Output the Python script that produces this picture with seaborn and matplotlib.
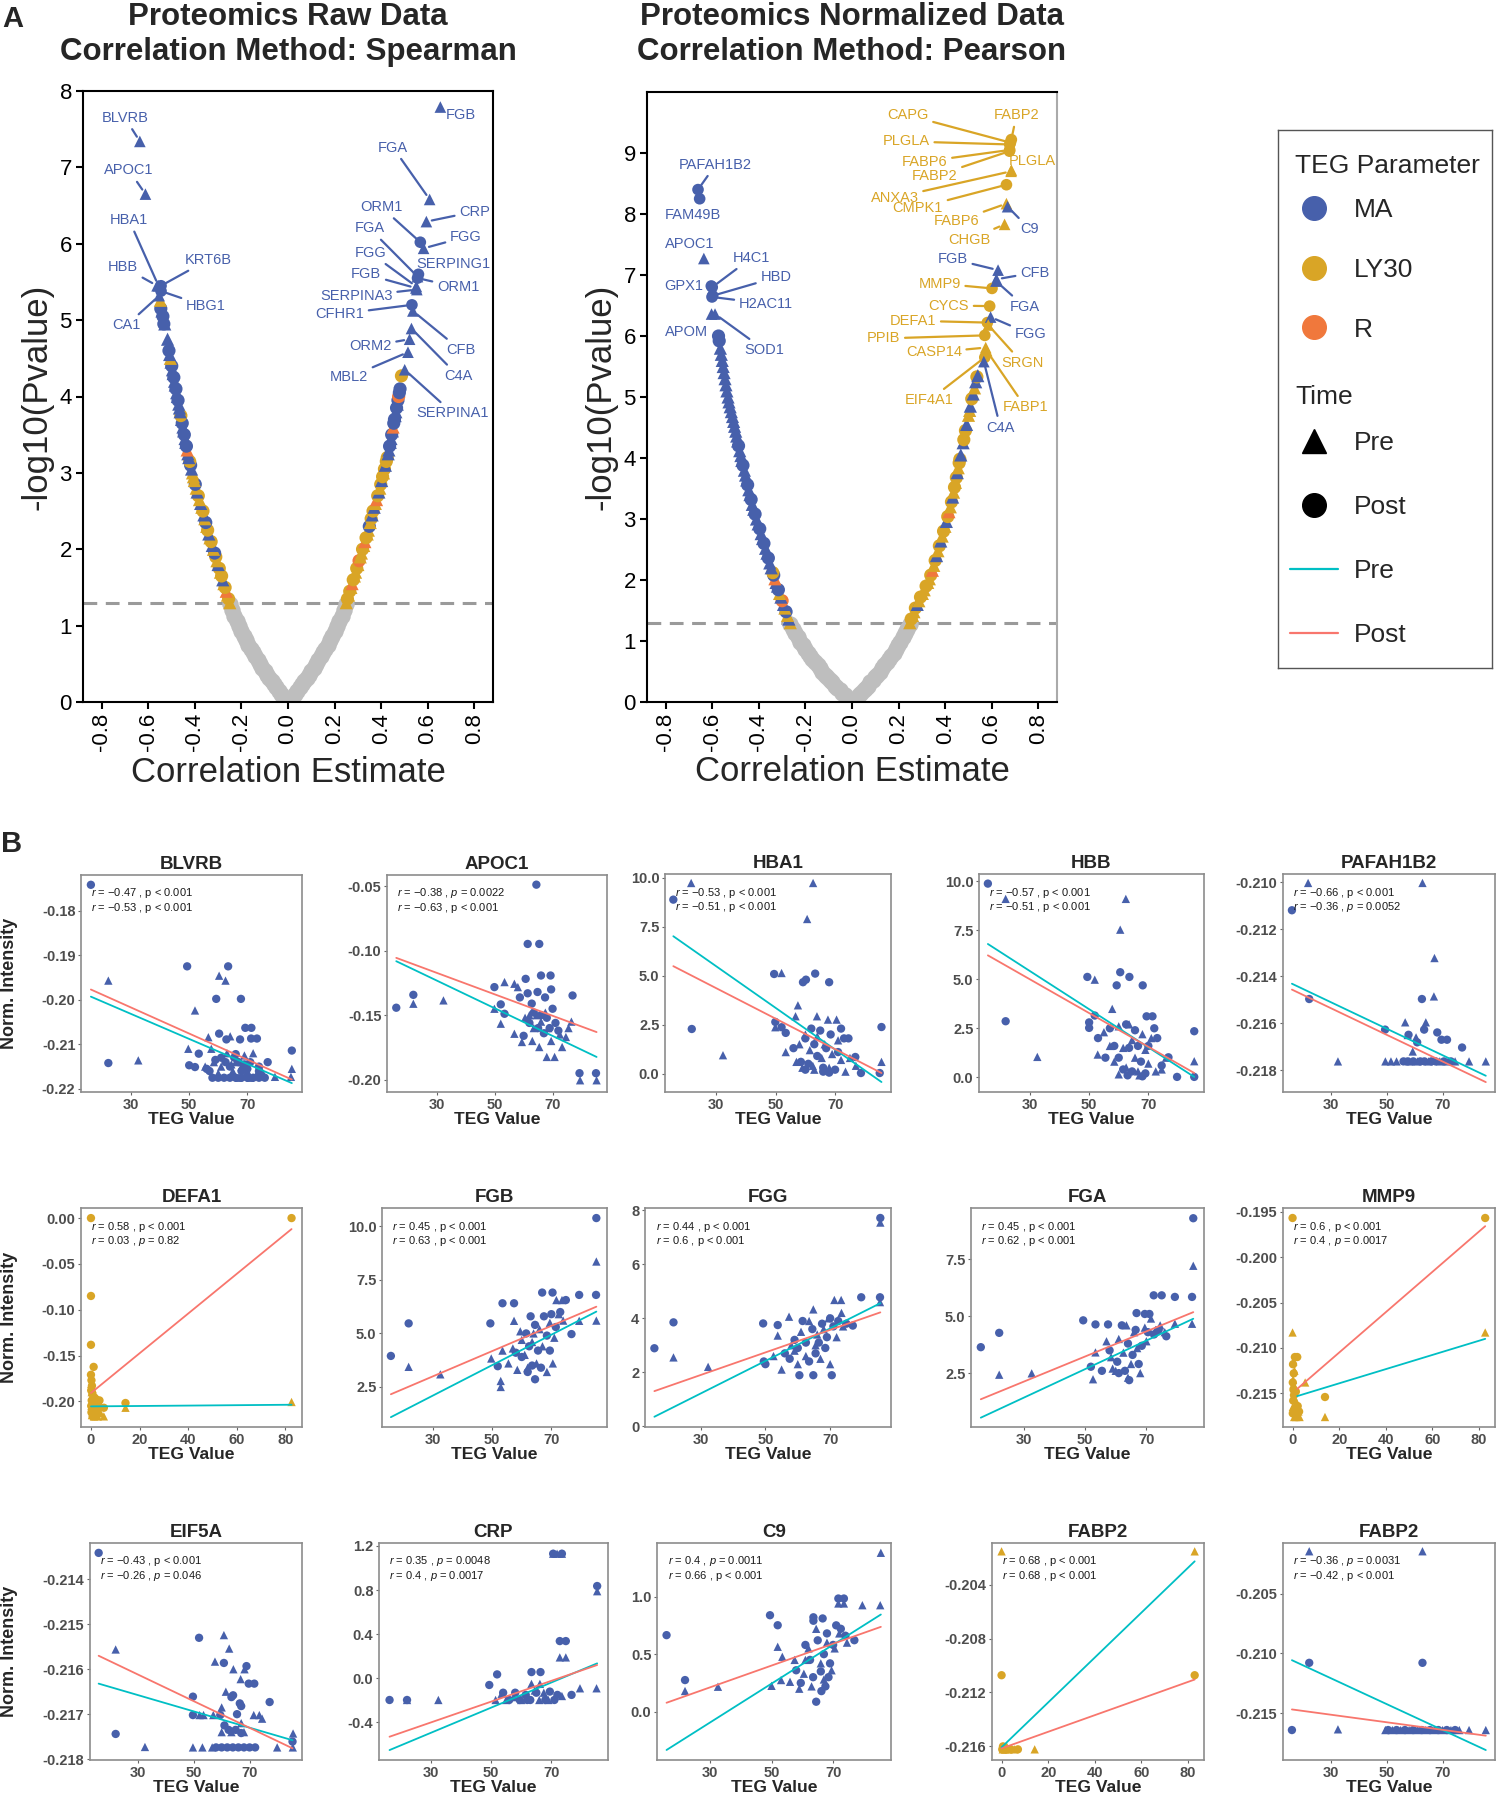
import matplotlib
matplotlib.use("Agg")
import matplotlib.pyplot as plt
import numpy as np
import pandas as pd
import seaborn as sns
from matplotlib.lines import Line2D
from matplotlib.ticker import FormatStrFormatter

sns.set_theme(style="white")
plt.rcParams['font.family'] = ['Liberation Sans', 'DejaVu Sans']
plt.rcParams['axes.unicode_minus'] = False
plt.rcParams['mathtext.fontset'] = 'custom'
plt.rcParams['mathtext.it'] = 'Liberation Sans:italic'
plt.rcParams['mathtext.rm'] = 'Liberation Sans'
plt.rcParams['mathtext.bf'] = 'Liberation Sans:bold'

# ---------------------------------------------------------------- colours
PARAM_COLORS = {"MA": "#4760AB", "LY30": "#D9A526", "R": "#F0783C"}
GRAY = "#BEBEBE"
CYAN = "#00BFC4"
RED = "#F8766D"
PARAM_CODE = {"B": "MA", "G": "LY30", "O": "R"}
TIME_CODE = {"T": "Pre", "C": "Post"}

# ---------------------------------------------------------------- volcano data (A)
# non-significant (grey) points: correlation estimate and -log10(p)
raw_ns_r = [0.00, 0.01, 0.02, 0.03, 0.04, 0.05, 0.06, 0.07, 0.08, 0.09, 0.10, 0.11, 0.12,
            0.13, 0.14, 0.15, 0.16, 0.17, 0.18, 0.19, 0.20, 0.21, 0.22, 0.23, 0.24, 0.25]
raw_ns_y = [0.00, 0.035, 0.07, 0.11, 0.15, 0.19, 0.23, 0.27, 0.32, 0.36, 0.41, 0.45, 0.50,
            0.55, 0.60, 0.65, 0.70, 0.75, 0.81, 0.87, 0.93, 0.99, 1.06, 1.13, 1.20, 1.28]
norm_ns_r_neg = [0.000, -0.011, -0.021, -0.032, -0.042, -0.053, -0.064, -0.074, -0.085, -0.095,
                 -0.106, -0.117, -0.127, -0.138, -0.148, -0.159, -0.170, -0.180, -0.191, -0.201,
                 -0.212, -0.223, -0.233, -0.244, -0.254, -0.265]
norm_ns_r_pos = [0.000, 0.010, 0.020, 0.030, 0.040, 0.050, 0.060, 0.070, 0.079, 0.089, 0.099,
                 0.109, 0.119, 0.129, 0.139, 0.149, 0.159, 0.169, 0.179, 0.189, 0.198, 0.208,
                 0.218, 0.228, 0.238, 0.248]
norm_ns_y = raw_ns_y

# significant points: (estimate, -log10 p, parameter+time code)
raw_sig = [
    (-0.250, 1.30, "GT"), (-0.255, 1.35, "GC"), (-0.260, 1.40, "GT"), (-0.265, 1.45, "OT"),
    (-0.270, 1.50, "GC"), (-0.275, 1.55, "GT"), (-0.280, 1.60, "BT"), (-0.285, 1.65, "GC"),
    (-0.290, 1.70, "GT"), (-0.295, 1.75, "GC"), (-0.300, 1.80, "BT"), (-0.305, 1.85, "GT"),
    (-0.310, 1.90, "GC"), (-0.315, 1.95, "BC"), (-0.320, 2.00, "GT"), (-0.325, 2.05, "BT"),
    (-0.330, 2.10, "GC"), (-0.335, 2.15, "GT"), (-0.340, 2.20, "BT"), (-0.345, 2.25, "GC"),
    (-0.349, 2.30, "GT"), (-0.353, 2.35, "BC"), (-0.357, 2.40, "GT"), (-0.361, 2.45, "BT"),
    (-0.365, 2.50, "GC"), (-0.370, 2.55, "GT"), (-0.375, 2.60, "BT"), (-0.380, 2.65, "GT"),
    (-0.385, 2.70, "GC"), (-0.390, 2.75, "BT"), (-0.394, 2.80, "GT"), (-0.398, 2.85, "BC"),
    (-0.402, 2.90, "GT"), (-0.406, 2.95, "GT"), (-0.410, 3.00, "GT"), (-0.414, 3.05, "BT"),
    (-0.418, 3.10, "BC"), (-0.422, 3.15, "GC"), (-0.426, 3.20, "BT"), (-0.430, 3.25, "BT"),
    (-0.433, 3.30, "OT"), (-0.436, 3.35, "BC"), (-0.439, 3.40, "BT"), (-0.442, 3.45, "BT"),
    (-0.445, 3.50, "BC"), (-0.448, 3.55, "BT"), (-0.451, 3.60, "BT"), (-0.454, 3.65, "BC"),
    (-0.457, 3.70, "BT"), (-0.460, 3.75, "GC"), (-0.463, 3.80, "BT"), (-0.466, 3.85, "BT"),
    (-0.469, 3.90, "BT"), (-0.472, 3.95, "BC"), (-0.475, 4.00, "BT"), (-0.478, 4.05, "BT"),
    (-0.481, 4.10, "BC"), (-0.484, 4.15, "BT"), (-0.487, 4.20, "BT"), (-0.490, 4.25, "BC"),
    (-0.493, 4.30, "BT"), (-0.496, 4.35, "BT"), (-0.499, 4.40, "BC"), (-0.502, 4.45, "BT"),
    (-0.505, 4.50, "GT"), (-0.508, 4.55, "BT"), (-0.511, 4.60, "BC"), (-0.517, 4.75, "BT"),
    (-0.529, 4.95, "BT"), (-0.533, 4.95, "BC"), (-0.537, 5.05, "BC"), (-0.541, 5.12, "BT"),
    (-0.546, 5.15, "BC"), (-0.548, 5.26, "GT"),
    (0.250, 1.30, "GT"), (0.255, 1.35, "GC"), (0.260, 1.40, "GT"), (0.265, 1.45, "GC"),
    (0.270, 1.50, "GT"), (0.275, 1.55, "OT"), (0.280, 1.60, "GC"), (0.285, 1.65, "GT"),
    (0.290, 1.70, "GT"), (0.295, 1.75, "GC"), (0.300, 1.80, "GT"), (0.305, 1.85, "OC"),
    (0.310, 1.90, "GT"), (0.315, 1.95, "GT"), (0.320, 2.00, "GC"), (0.325, 2.05, "GT"),
    (0.330, 2.10, "OT"), (0.335, 2.15, "GC"), (0.340, 2.20, "GT"), (0.345, 2.25, "GT"),
    (0.349, 2.30, "BC"), (0.353, 2.35, "GT"), (0.357, 2.40, "GC"), (0.361, 2.45, "BT"),
    (0.365, 2.50, "GC"), (0.370, 2.55, "BT"), (0.375, 2.60, "GT"), (0.380, 2.65, "OT"),
    (0.385, 2.70, "GC"), (0.390, 2.75, "BT"), (0.394, 2.80, "GT"), (0.398, 2.85, "GC"),
    (0.402, 2.90, "BT"), (0.406, 2.95, "GC"), (0.410, 3.00, "GT"), (0.414, 3.05, "GC"),
    (0.418, 3.10, "BT"), (0.422, 3.15, "GC"), (0.426, 3.20, "GC"), (0.430, 3.25, "BT"),
    (0.433, 3.30, "BT"), (0.436, 3.35, "BC"), (0.439, 3.40, "BT"), (0.442, 3.45, "BT"),
    (0.445, 3.50, "BC"), (0.448, 3.55, "BT"), (0.451, 3.60, "OT"), (0.454, 3.65, "BC"),
    (0.457, 3.70, "BC"), (0.460, 3.75, "BT"), (0.463, 3.80, "BT"), (0.466, 3.85, "BC"),
    (0.469, 3.90, "BT"), (0.472, 3.95, "BC"), (0.475, 4.00, "OC"), (0.478, 4.05, "BC"),
    (0.481, 4.10, "BC"), (0.487, 4.27, "GC"),
]

norm_sig = [
    (-0.265, 1.30, "GT"), (-0.271, 1.36, "BT"), (-0.277, 1.42, "GT"), (-0.283, 1.48, "BC"),
    (-0.288, 1.54, "GT"), (-0.294, 1.60, "BT"), (-0.300, 1.66, "OC"), (-0.305, 1.72, "BT"),
    (-0.311, 1.78, "GT"), (-0.316, 1.84, "BC"), (-0.320, 1.90, "BT"), (-0.326, 1.96, "BT"),
    (-0.331, 2.02, "OT"), (-0.336, 2.08, "BC"), (-0.340, 2.12, "GC"), (-0.347, 2.20, "BT"),
    (-0.353, 2.28, "BT"), (-0.359, 2.36, "BC"), (-0.365, 2.44, "BT"), (-0.371, 2.52, "BT"),
    (-0.378, 2.60, "BC"), (-0.384, 2.68, "BT"), (-0.390, 2.76, "BT"), (-0.396, 2.84, "BC"),
    (-0.403, 2.92, "BT"), (-0.410, 3.00, "BT"), (-0.416, 3.08, "BC"), (-0.422, 3.16, "BT"),
    (-0.428, 3.24, "BT"), (-0.433, 3.32, "BC"), (-0.438, 3.40, "BT"), (-0.443, 3.48, "BT"),
    (-0.448, 3.56, "BC"), (-0.452, 3.64, "BT"), (-0.457, 3.72, "BT"), (-0.462, 3.80, "BT"),
    (-0.468, 3.88, "BC"), (-0.473, 3.96, "BT"), (-0.477, 4.04, "BT"), (-0.482, 4.12, "BT"),
    (-0.487, 4.20, "BC"), (-0.491, 4.28, "BT"), (-0.495, 4.36, "BT"), (-0.499, 4.44, "BT"),
    (-0.504, 4.52, "BT"), (-0.508, 4.60, "BT"), (-0.513, 4.68, "BT"), (-0.518, 4.76, "BT"),
    (-0.523, 4.84, "BT"), (-0.528, 4.92, "BT"), (-0.532, 5.00, "BT"), (-0.537, 5.10, "BT"),
    (-0.541, 5.20, "BT"), (-0.545, 5.30, "BT"), (-0.549, 5.40, "BT"), (-0.553, 5.50, "BT"),
    (-0.557, 5.60, "BT"), (-0.561, 5.70, "BT"), (-0.565, 5.80, "BT"), (-0.570, 5.92, "BC"),
    (-0.573, 6.00, "BC"),
    (0.248, 1.30, "GT"), (0.254, 1.36, "GC"), (0.260, 1.42, "GT"), (0.266, 1.48, "GT"),
    (0.272, 1.54, "GC"), (0.280, 1.60, "BT"), (0.287, 1.66, "GT"), (0.294, 1.72, "GC"),
    (0.302, 1.78, "GT"), (0.310, 1.84, "GT"), (0.318, 1.90, "GC"), (0.325, 1.96, "GT"),
    (0.332, 2.02, "GT"), (0.338, 2.08, "GC"), (0.345, 2.16, "OT"), (0.351, 2.24, "GT"),
    (0.357, 2.32, "GC"), (0.363, 2.40, "BT"), (0.369, 2.48, "GT"), (0.375, 2.56, "GC"),
    (0.381, 2.64, "BT"), (0.387, 2.72, "GT"), (0.393, 2.80, "GC"), (0.399, 2.88, "GT"),
    (0.405, 2.96, "BT"), (0.411, 3.04, "GC"), (0.416, 3.12, "OT"), (0.422, 3.20, "GT"),
    (0.427, 3.28, "GC"), (0.432, 3.36, "BT"), (0.436, 3.44, "GT"), (0.440, 3.52, "GC"),
    (0.444, 3.60, "GT"), (0.448, 3.68, "GC"), (0.452, 3.76, "BT"), (0.456, 3.84, "GT"),
    (0.460, 3.92, "GC"), (0.463, 3.98, "GC"), (0.467, 4.05, "BT"), (0.477, 4.25, "BT"),
    (0.480, 4.30, "GC"), (0.487, 4.45, "GC"), (0.492, 4.55, "BT"), (0.500, 4.70, "GT"),
    (0.505, 4.78, "GT"), (0.508, 4.85, "BT"), (0.514, 4.97, "GC"), (0.520, 5.05, "BT"),
    (0.526, 5.15, "GT"), (0.531, 5.25, "BT"), (0.536, 5.33, "GC"), (0.540, 5.35, "BT"),
]

# labelled proteins
raw_label_names = ["BLVRB", "APOC1", "HBA1", "HBB", "KRT6B", "HBG1", "CA1", "FGB", "FGA",
                   "ORM1", "CRP", "FGA", "FGG", "FGG", "SERPING1", "FGB", "ORM1", "SERPINA3",
                   "CFHR1", "CFB", "ORM2", "C4A", "MBL2", "SERPINA1"]
raw_label_points = [(-0.636, 7.34, "BT"), (-0.612, 6.65, "BT"), (-0.556, 5.45, "BT"),
                    (-0.562, 5.45, "BT"), (-0.545, 5.45, "BC"), (-0.545, 5.38, "BC"),
                    (-0.553, 5.32, "BT"), (0.654, 7.79, "BT"), (0.608, 6.58, "BT"),
                    (0.568, 6.02, "BC"), (0.594, 6.29, "BT"), (0.556, 5.57, "BT"),
                    (0.582, 5.94, "BT"), (0.551, 5.44, "BT"), (0.560, 5.60, "BC"),
                    (0.549, 5.42, "BT"), (0.556, 5.55, "BC"), (0.553, 5.40, "BT"),
                    (0.532, 5.20, "BC"), (0.536, 5.12, "BT"), (0.522, 4.75, "BT"),
                    (0.530, 4.89, "BT"), (0.515, 4.58, "BT"), (0.501, 4.35, "BT")]
norm_label_names = ["PAFAH1B2", "FAM49B", "APOC1", "H4C1", "GPX1", "HBD", "H2AC11", "APOM",
                    "SOD1", "CAPG", "FABP2", "PLGLA", "FABP6", "FABP2", "PLGLA", "ANXA3",
                    "CMPK1", "FABP6", "C9", "CHGB", "FGB", "CFB", "MMP9", "FGA", "CYCS",
                    "DEFA1", "FGG", "PPIB", "CASP14", "SRGN", "EIF4A1", "FABP1", "C4A"]
norm_label_points = [(-0.661, 8.40, "BC"), (-0.654, 8.25, "BC"), (-0.636, 7.27, "BT"),
                     (-0.600, 6.80, "BC"), (-0.604, 6.82, "BC"), (-0.598, 6.66, "BC"),
                     (-0.601, 6.64, "BC"), (-0.603, 6.36, "BT"), (-0.588, 6.36, "BT"),
                     (0.680, 9.17, "GC"), (0.684, 9.22, "GC"), (0.677, 9.14, "GC"),
                     (0.677, 9.05, "GC"), (0.676, 9.03, "GC"), (0.684, 8.72, "GT"),
                     (0.683, 8.70, "GT"), (0.663, 8.48, "GC"), (0.663, 8.17, "GT"),
                     (0.668, 8.12, "BT"), (0.655, 7.83, "GT"), (0.627, 7.08, "BT"),
                     (0.620, 6.93, "BT"), (0.601, 6.78, "GC"), (0.618, 6.90, "BT"),
                     (0.591, 6.49, "GC"), (0.581, 6.22, "GC"), (0.595, 6.31, "BT"),
                     (0.570, 6.01, "GC"), (0.574, 5.81, "GT"), (0.585, 6.18, "GT"),
                     (0.570, 5.65, "GC"), (0.578, 5.76, "GT"), (0.566, 5.58, "BT")]
sig_threshold = 1.3

# label placement (layout)
raw_label_pos = [(-0.700, 7.65), (-0.682, 6.96), (-0.682, 6.31), (-0.708, 5.70), (-0.343, 5.79),
                 (-0.353, 5.18), (-0.694, 4.93), (0.740, 7.69), (0.451, 7.26), (0.401, 6.48),
                 (0.801, 6.42), (0.351, 6.20), (0.763, 6.09), (0.354, 5.88), (0.708, 5.74),
                 (0.336, 5.60), (0.730, 5.43), (0.294, 5.31), (0.222, 5.08), (0.740, 4.61),
                 (0.354, 4.66), (0.730, 4.27), (0.262, 4.25), (0.708, 3.78)]
raw_label_seg = [1, 1, 1, 1, 1, 1, 1, 0, 1, 1, 1, 1, 1, 1, 0, 1, 1, 1, 1, 1, 1, 1, 1, 1]
norm_label_pos = [(-0.585, 8.81), (-0.682, 7.98), (-0.697, 7.51), (-0.432, 7.28), (-0.722, 6.82),
                  (-0.327, 6.96), (-0.370, 6.53), (-0.711, 6.06), (-0.375, 5.77), (0.240, 9.62),
                  (0.706, 9.62), (0.233, 9.19), (0.312, 8.86), (0.355, 8.62), (0.774, 8.87),
                  (0.183, 8.27), (0.283, 8.10), (0.448, 7.88), (0.763, 7.75), (0.502, 7.58),
                  (0.433, 7.26), (0.784, 7.04), (0.376, 6.86), (0.741, 6.48), (0.416, 6.50),
                  (0.262, 6.25), (0.766, 6.03), (0.136, 5.96), (0.351, 5.73), (0.731, 5.56),
                  (0.333, 4.95), (0.745, 4.83), (0.637, 4.50)]
norm_label_seg = [1, 0, 0, 1, 0, 1, 1, 0, 1, 1, 1, 1, 1, 1, 0, 1, 1, 1, 1, 1, 1, 1, 1, 1, 1,
                  1, 1, 1, 1, 1, 1, 1, 1]

# ---------------------------------------------------------------- scatter data (B)
BLVRB_pre = [(22.2, -0.1957), (32.5, -0.2136), (52.0, -0.2024), (49.7, -0.2110), (60.3, -0.1946),
             (62.5, -0.1957), (56.6, -0.2084), (64.1, -0.2082), (57.6, -0.2110), (58.5, -0.2140),
             (61.0, -0.2150), (63.0, -0.2120), (65.0, -0.2160), (66.0, -0.2140), (68.0, -0.2150),
             (69.0, -0.2125), (70.0, -0.2160), (72.0, -0.2120), (73.0, -0.2170), (75.0, -0.2160),
             (79.5, -0.2173), (85.0, -0.2173), (85.3, -0.2155), (67.0, -0.2175), (71.0, -0.2175),
             (60.0, -0.2165), (55.5, -0.2150), (64.5, -0.2145), (69.5, -0.2170)]
BLVRB_post = [(16.2, -0.1742), (22.2, -0.2142), (49.3, -0.1925), (50.0, -0.2147), (53.3, -0.2121),
              (52.0, -0.2151), (59.3, -0.1998), (63.4, -0.1925), (67.8, -0.1998), (60.3, -0.2076),
              (62.8, -0.2089), (69.3, -0.2063), (71.4, -0.2063), (67.5, -0.2089), (71.3, -0.2087),
              (73.3, -0.2087), (56.0, -0.2155), (57.0, -0.2160), (59.0, -0.2135), (61.0, -0.2130),
              (62.5, -0.2140), (64.0, -0.2150), (65.5, -0.2130), (66.0, -0.2122), (67.0, -0.2140),
              (68.0, -0.2160), (69.0, -0.2145), (70.0, -0.2155), (71.0, -0.2140), (74.0, -0.2150),
              (74.0, -0.2160), (77.0, -0.2140), (85.3, -0.2114), (60.0, -0.2175), (62.0, -0.2175),
              (64.0, -0.2175), (66.0, -0.2175), (68.0, -0.2175), (70.0, -0.2175), (72.0, -0.2175),
              (74.0, -0.2175), (76.0, -0.2175), (58.0, -0.2175)]
BLVRB_fit = {"Pre": [(16.2, -0.1993), (85.3, -0.2187)], "Post": [(16.2, -0.1977), (85.3, -0.2179)]}
BLVRB_stats = [("−0.47", "< 0.001"), ("−0.53", "< 0.001")]

APOC1_pre = [(21.9, -0.1411), (32.3, -0.1385), (53.4, -0.1243), (56.8, -0.1256), (58.0, -0.1282),
             (49.9, -0.1450), (52.1, -0.1566), (56.8, -0.1644), (59.4, -0.1708), (65.4, -0.1747),
             (68.0, -0.1824), (70.7, -0.1824), (73.3, -0.1747), (74.6, -0.1669), (60.5, -0.152),
             (62.0, -0.150), (63.5, -0.160), (64.5, -0.150), (66.0, -0.155), (67.5, -0.148),
             (68.5, -0.160), (69.5, -0.170), (72.5, -0.165), (75.5, -0.160), (76.5, -0.155),
             (63.0, -0.170), (79.5, -0.2005), (85.2, -0.2005)]
APOC1_post = [(16.0, -0.1442), (21.9, -0.1342), (64.4, -0.0487), (61.4, -0.0947), (65.4, -0.0947),
              (66.0, -0.1192), (69.3, -0.1192), (49.9, -0.1282), (60.7, -0.1218), (52.1, -0.1416),
              (53.4, -0.1489), (58.7, -0.1362), (61.4, -0.1330), (62.8, -0.1410), (64.8, -0.1320),
              (67.4, -0.1362), (69.5, -0.1300), (70.0, -0.1450), (63.5, -0.1480), (66.0, -0.1500),
              (68.0, -0.1520), (71.0, -0.1560), (65.0, -0.1600), (67.0, -0.1640), (60.0, -0.1660),
              (72.0, -0.1620), (76.9, -0.1347), (79.3, -0.1950), (85.0, -0.1950), (62.0, -0.1560),
              (69.0, -0.1600)]
APOC1_fit = {"Pre": [(16.0, -0.1081), (85.2, -0.1824)], "Post": [(16.0, -0.1055), (85.2, -0.1631)]}
APOC1_stats = [("−0.38", "= 0.0022"), ("−0.63", "< 0.001")]

HBA1_pre = [(21.6, 9.74), (62.6, 9.74), (60.6, 7.90), (32.3, 0.94), (52.0, 5.14), (57.5, 3.49),
            (49.9, 2.37), (53.4, 1.10), (56.7, 2.93), (63.9, 2.93), (67.6, 2.76), (70.5, 2.76),
            (85.6, 0.60), (58.0, 1.5), (60.0, 2.0), (61.5, 1.2), (62.5, 0.4), (64.0, 1.9),
            (65.5, 0.8), (66.5, 1.5), (68.0, 0.3), (69.0, 1.0), (71.0, 1.7), (72.0, 0.7),
            (73.5, 0.1), (75.0, 0.8), (77.0, 0.4), (57.0, 0.6), (59.0, 0.3), (63.0, 0.2)]
HBA1_post = [(15.6, 8.89), (21.8, 2.28), (49.5, 5.09), (59.2, 4.67), (60.2, 4.80), (63.3, 5.11),
             (68.0, 4.67), (49.9, 2.64), (52.0, 2.37), (53.4, 2.08), (85.6, 2.38), (85.0, 0.03),
             (78.7, 0.03), (76.8, 0.85), (56.0, 1.3), (58.5, 0.6), (60.0, 1.8), (61.0, 0.5),
             (62.0, 2.3), (63.0, 1.5), (64.0, 0.9), (65.0, 2.2), (66.0, 0.3), (67.0, 1.3),
             (68.5, 2.0), (70.0, 0.2), (71.0, 1.1), (72.0, 2.3), (73.0, 1.8), (74.5, 1.8),
             (66.0, 0.1), (68.0, 0.05), (60.0, 0.2)]
HBA1_fit = {"Pre": [(15.6, 7.02), (85.6, -0.43)], "Post": [(15.6, 5.49), (85.6, 0.03)]}
HBA1_stats = [("−0.53", "< 0.001"), ("−0.51", "< 0.001")]

HBB_pre = [(21.8, 9.10), (32.5, 1.04), (62.4, 9.10), (60.5, 7.53), (51.9, 4.98), (57.8, 3.49),
           (52.9, 1.16), (85.5, 0.82), (55.0, 2.3), (57.0, 1.6), (58.5, 0.8), (60.0, 2.6),
           (61.5, 1.5), (62.5, 0.5), (63.5, 2.7), (64.5, 1.9), (65.5, 1.0), (66.5, 0.3),
           (68.0, 2.2), (69.0, 1.4), (70.0, 0.7), (71.0, 2.0), (72.5, 0.3), (74.5, 0.4),
           (76.0, 1.0), (60.0, 0.15), (67.0, 0.1)]
HBB_post = [(15.8, 9.88), (21.8, 2.86), (49.4, 5.12), (60.5, 5.36), (63.6, 5.12), (59.3, 4.69),
            (68.1, 4.69), (51.9, 3.15), (50.0, 2.80), (50.0, 2.52), (69.4, 3.11), (71.4, 3.11),
            (85.5, 2.35), (79.7, 0.02), (85.5, 0.02), (76.8, 1.02), (53.0, 2.0), (55.5, 1.0),
            (57.0, 2.5), (58.5, 1.6), (60.0, 1.0), (61.5, 0.4), (62.5, 2.7), (63.5, 1.5),
            (64.5, 0.3), (65.5, 2.4), (66.5, 1.6), (67.5, 0.8), (69.0, 0.2), (70.0, 1.6),
            (72.0, 2.5), (73.0, 2.0), (74.5, 0.6), (63.0, 0.1), (68.0, 0.05)]
HBB_fit = {"Pre": [(15.8, 6.80), (85.5, 0.02)], "Post": [(15.8, 6.22), (85.5, 0.22)]}
HBB_stats = [("−0.57", "< 0.001"), ("−0.51", "< 0.001")]

PAFAH1B2_pre = [(21.8, -0.21004), (62.8, -0.21004), (32.5, -0.21762), (67.1, -0.21323),
                (66.9, -0.21486), (56.6, -0.21596), (64.0, -0.21596), (59.3, -0.2172),
                (49.5, -0.21762), (51.5, -0.21762), (53.5, -0.21762), (58.0, -0.21762),
                (61.0, -0.21762), (65.0, -0.21762), (69.0, -0.21762), (72.0, -0.21762),
                (74.5, -0.21762), (79.5, -0.21762), (85.5, -0.21762), (60.5, -0.21660),
                (57.5, -0.21650)]
PAFAH1B2_post = [(16.0, -0.2112), (22.2, -0.21497), (62.6, -0.21497), (49.4, -0.21627),
                 (63.4, -0.21627), (57.8, -0.21649), (68.1, -0.21639), (69.6, -0.2167),
                 (71.6, -0.2167), (60.9, -0.21681), (77.0, -0.21703), (56.0, -0.21762),
                 (57.5, -0.21762), (59.5, -0.21762), (62.0, -0.21762), (63.5, -0.21762),
                 (66.0, -0.21762), (67.5, -0.21762), (70.5, -0.21762), (73.0, -0.21762)]
PAFAH1B2_fit = {"Pre": [(16.0, -0.21432), (85.5, -0.21823)],
                "Post": [(16.0, -0.21457), (85.5, -0.21850)]}
PAFAH1B2_stats = [("−0.66", "< 0.001"), ("−0.36", "= 0.0052")]

DEFA1_pre = [(82.5, -0.2007), (0.3, -0.190), (0.5, -0.195), (1.0, -0.200), (0.2, -0.205),
             (1.5, -0.208), (0.8, -0.212), (2.0, -0.203), (2.5, -0.210), (3.0, -0.206),
             (0.4, -0.215), (1.2, -0.2165), (5.3, -0.2164), (4.0, -0.2130), (14.2, -0.2070),
             (2.8, -0.2165), (0.1, -0.181), (0.6, -0.186)]
DEFA1_post = [(0.0, 0.0), (82.5, 0.0), (0.0, -0.085), (0.0, -0.1383), (1.1, -0.1624),
              (0.0, -0.171), (0.2, -0.177), (0.4, -0.183), (0.1, -0.188), (0.6, -0.192),
              (1.5, -0.196), (0.3, -0.199), (2.2, -0.198), (0.9, -0.202), (0.1, -0.205),
              (1.8, -0.206), (0.5, -0.209), (2.8, -0.203), (0.2, -0.212), (1.3, -0.214),
              (0.7, -0.2165), (14.2, -0.2018), (5.3, -0.207), (3.5, -0.199), (2.0, -0.211)]
DEFA1_fit = {"Pre": [(0.0, -0.2055), (82.5, -0.2037)], "Post": [(0.0, -0.1909), (82.5, -0.0120)]}
DEFA1_stats = [("0.58", "< 0.001"), ("0.03", "= 0.82")]

FGB_pre = [(21.8, 3.44), (32.5, 3.09), (49.7, 3.83), (57.4, 5.59), (52.9, 2.78), (52.9, 2.50),
           (71.7, 6.56), (73.6, 6.56), (79.4, 5.59), (85.2, 8.36), (85.2, 5.60), (53.5, 4.2),
           (55.5, 3.6), (57.0, 4.3), (58.5, 3.3), (59.5, 5.1), (61.0, 4.0), (62.0, 3.4),
           (63.5, 4.6), (65.0, 3.6), (66.0, 5.2), (67.0, 4.4), (68.5, 3.2), (69.5, 5.5),
           (70.5, 3.6), (71.0, 4.8), (72.5, 5.9), (74.0, 5.6), (60.0, 4.7), (64.0, 5.0)]
FGB_post = [(15.8, 3.95), (21.8, 5.47), (49.4, 5.47), (53.5, 6.41), (57.4, 6.41), (51.9, 3.47),
            (64.5, 2.86), (66.9, 6.91), (70.4, 6.91), (74.9, 6.56), (79.4, 6.80), (76.8, 4.97),
            (85.2, 10.39), (85.1, 6.80), (58.0, 4.1), (60.0, 3.9), (61.5, 5.0), (62.5, 4.4),
            (63.5, 3.5), (64.5, 5.4), (65.5, 4.2), (66.5, 3.4), (67.5, 5.8), (68.5, 4.9),
            (69.5, 4.2), (70.0, 5.9), (71.5, 5.3), (73.0, 6.0), (63.0, 5.8), (62.0, 3.2)]
FGB_fit = {"Pre": [(15.8, 1.09), (85.2, 6.02)], "Post": [(15.8, 2.16), (85.2, 6.25)]}
FGB_stats = [("0.45", "< 0.001"), ("0.63", "< 0.001")]

FGG_pre = [(21.6, 2.55), (32.3, 2.20), (53.8, 3.36), (57.3, 4.06), (64.8, 4.33), (71.3, 4.68),
           (73.4, 4.68), (85.4, 4.60), (85.5, 7.55), (52.5, 2.6), (55.0, 2.1), (60.0, 2.3),
           (58.0, 3.0), (61.0, 3.5), (62.5, 2.6), (63.5, 3.9), (65.5, 3.0), (67.0, 2.5),
           (68.0, 3.6), (69.5, 4.0), (70.0, 2.3), (72.0, 3.3), (73.5, 4.2), (74.0, 3.7),
           (66.0, 3.4), (59.0, 2.8)]
FGG_post = [(15.7, 2.89), (21.6, 3.85), (49.3, 3.81), (49.5, 2.4), (50.0, 2.3), (53.8, 3.75),
            (60.5, 1.89), (64.8, 1.89), (70.5, 1.89), (79.6, 4.78), (85.4, 4.78), (85.5, 7.72),
            (77.0, 3.73), (56.0, 2.7), (57.5, 2.5), (59.0, 3.2), (60.0, 2.9), (61.5, 3.9),
            (62.5, 3.1), (63.5, 2.4), (64.5, 3.6), (65.5, 2.7), (66.5, 3.1), (67.5, 3.8),
            (68.5, 2.9), (69.0, 3.3), (70.0, 4.0), (71.0, 3.7), (72.5, 3.9), (75.0, 3.8)]
FGG_fit = {"Pre": [(15.7, 0.35), (85.5, 4.56)], "Post": [(15.7, 1.30), (85.5, 4.22)]}
FGG_stats = [("0.44", "< 0.001"), ("0.6", "< 0.001")]

FGA_pre = [(22.0, 2.43), (32.6, 2.49), (53.4, 3.41), (52.6, 2.23), (79.3, 4.67), (84.9, 4.67),
           (85.3, 7.22), (57.0, 3.9), (58.5, 3.2), (60.0, 2.6), (61.0, 4.0), (62.5, 3.4),
           (63.5, 4.6), (65.0, 2.9), (66.0, 4.3), (67.0, 3.6), (68.0, 2.5), (69.5, 4.5),
           (70.0, 3.9), (71.5, 4.9), (73.0, 4.4), (74.5, 4.6), (76.0, 4.3), (64.0, 2.3),
           (59.0, 2.7)]
FGA_post = [(16.0, 3.64), (22.0, 4.27), (49.4, 4.82), (53.4, 4.64), (57.5, 4.64), (51.9, 2.78),
            (66.8, 5.14), (72.4, 5.92), (75.0, 5.92), (79.3, 5.85), (84.9, 5.85), (76.5, 4.12),
            (85.3, 9.31), (64.4, 2.19), (55.5, 2.6), (58.0, 3.5), (60.5, 3.0), (62.0, 4.6),
            (63.0, 2.6), (64.0, 3.8), (65.5, 3.3), (66.5, 4.4), (67.5, 2.9), (68.5, 3.7),
            (69.5, 5.1), (70.5, 4.3), (71.0, 5.1), (72.5, 4.2), (74.0, 4.4), (61.0, 2.5)]
FGA_fit = {"Pre": [(16.0, 0.54), (85.3, 4.89)], "Post": [(16.0, 1.35), (85.3, 5.18)]}
FGA_stats = [("0.45", "< 0.001"), ("0.62", "< 0.001")]

MMP9_pre = [(82.6, -0.2083), (0.0, -0.2083), (5.4, -0.2138), (13.9, -0.2176), (0.3, -0.2115),
            (0.8, -0.2125), (0.2, -0.2135), (1.2, -0.2145), (0.5, -0.2155), (1.8, -0.2160),
            (0.1, -0.2165), (2.5, -0.2170), (0.7, -0.2176), (1.5, -0.2176), (3.0, -0.2176),
            (0.4, -0.2140), (1.0, -0.2168)]
MMP9_post = [(0.0, -0.1957), (82.6, -0.1957), (2.0, -0.2110), (1.0, -0.2110), (13.9, -0.2154),
             (0.2, -0.2118), (0.5, -0.2128), (0.1, -0.2138), (1.4, -0.2148), (0.6, -0.2152),
             (0.3, -0.2158), (2.2, -0.2164), (0.9, -0.2168), (0.1, -0.2172), (1.7, -0.2174),
             (0.4, -0.2146), (2.8, -0.2170)]
MMP9_fit = {"Pre": [(2.0, -0.2153), (82.6, -0.2090)], "Post": [(2.0, -0.2145), (82.6, -0.1966)]}
MMP9_stats = [("0.6", "< 0.001"), ("0.4", "= 0.0017")]

EIF5A_pre = [(22.0, -0.21556), (32.5, -0.21773), (60.8, -0.21524), (62.7, -0.21554),
             (57.6, -0.21583), (64.2, -0.21600), (68.2, -0.21600), (66.8, -0.21622),
             (52.1, -0.21702), (53.5, -0.21702), (57.0, -0.21702), (60.0, -0.21685),
             (61.5, -0.21650), (63.5, -0.21740), (67.0, -0.21720), (71.5, -0.21702),
             (73.5, -0.21702), (74.5, -0.21710), (49.7, -0.21774), (53.1, -0.21774),
             (56.6, -0.21774), (79.9, -0.21774), (85.6, -0.21743), (85.5, -0.21774),
             (60.0, -0.21740), (68.0, -0.21740)]
EIF5A_post = [(15.9, -0.21341), (22.0, -0.21744), (51.9, -0.21530), (60.8, -0.21586),
              (68.9, -0.21593), (69.7, -0.21632), (71.7, -0.21632), (49.7, -0.21661),
              (49.7, -0.21702), (64.1, -0.21658), (63.5, -0.21662), (66.5, -0.21676),
              (67.0, -0.21682), (77.2, -0.21673), (59.5, -0.21702), (61.0, -0.21725),
              (62.5, -0.21735), (65.0, -0.21735), (67.0, -0.21742), (85.4, -0.21761),
              (58.0, -0.21774), (60.0, -0.21774), (62.0, -0.21774), (64.0, -0.21774),
              (66.0, -0.21774), (68.0, -0.21774), (70.0, -0.21774), (72.0, -0.21774),
              (65.5, -0.21700)]
EIF5A_fit = {"Pre": [(15.9, -0.21632), (85.4, -0.21758)], "Post": [(15.9, -0.21570), (85.4, -0.21776)]}
EIF5A_stats = [("−0.43", "< 0.001"), ("−0.26", "= 0.046")]

CRP_pre = [(22.1, -0.196), (32.5, -0.196), (51.5, -0.196), (53.5, -0.14), (55.0, -0.196),
           (57.5, -0.17), (60.0, -0.196), (62.0, -0.16), (63.4, -0.05), (66.2, -0.05),
           (64.5, -0.11), (67.5, -0.13), (69.0, -0.196), (70.6, 1.13), (71.9, 1.13),
           (73.5, 1.13), (72.8, 0.19), (74.8, 0.19), (79.5, -0.09), (85.0, -0.09),
           (85.2, 0.79), (73.5, -0.16), (66.0, -0.196)]
CRP_post = [(16.3, -0.196), (22.1, -0.196), (49.4, -0.06), (52.0, 0.036), (63.4, 0.057),
            (66.4, 0.057), (70.6, 1.13), (73.5, 1.13), (72.8, 0.338), (74.8, 0.338),
            (76.7, -0.15), (85.2, 0.837), (54.0, -0.13), (56.0, -0.196), (58.0, -0.13),
            (59.5, -0.196), (61.5, -0.15), (63.0, -0.196), (65.0, -0.13), (68.0, -0.196),
            (69.5, -0.12), (71.0, -0.196), (72.0, -0.15), (62.0, -0.196)]
CRP_fit = {"Pre": [(16.3, -0.650), (85.2, 0.136)], "Post": [(16.3, -0.529), (85.2, 0.121)]}
CRP_stats = [("0.35", "= 0.0048"), ("0.4", "= 0.0017")]

C9_pre = [(21.9, 0.18), (32.6, 0.217), (52.0, 0.564), (53.5, 0.477), (50.0, 0.225), (53.1, 0.275),
          (71.7, 0.94), (73.5, 0.94), (79.5, 0.925), (85.3, 0.925), (85.5, 1.38), (56.0, 0.26),
          (57.5, 0.45), (59.0, 0.20), (60.5, 0.33), (62.0, 0.55), (63.0, 0.22), (64.5, 0.72),
          (66.0, 0.42), (67.0, 0.28), (68.0, 0.60), (69.5, 0.36), (70.5, 0.55), (72.0, 0.68),
          (74.5, 0.60), (61.0, 0.45)]
C9_post = [(15.9, 0.665), (21.9, 0.275), (49.5, 0.838), (52.0, 0.751), (63.6, 0.82), (63.6, 0.79),
           (66.6, 0.81), (71.7, 0.983), (73.5, 0.983), (76.9, 0.621), (64.5, 0.087), (66.2, 0.179),
           (58.0, 0.36), (59.5, 0.25), (61.0, 0.58), (62.5, 0.45), (63.5, 0.30), (65.0, 0.62),
           (66.0, 0.35), (67.0, 0.50), (68.0, 0.68), (69.0, 0.42), (70.0, 0.58), (71.0, 0.75),
           (72.5, 0.72), (74.0, 0.66), (67.5, 0.22), (68.5, 0.30)]
C9_fit = {"Pre": [(15.9, -0.332), (85.5, 0.844)], "Post": [(15.9, 0.078), (85.5, 0.737)]}
C9_stats = [("0.4", "= 0.0011"), ("0.66", "< 0.001")]

FABP2a_pre = [(0.0, -0.20153), (82.8, -0.20153), (14.2, -0.21622), (0.5, -0.21622),
              (1.5, -0.21622), (3.0, -0.21622), (5.5, -0.21622), (2.2, -0.21600)]
FABP2a_post = [(0.0, -0.21072), (82.8, -0.21072), (0.3, -0.21622), (1.0, -0.21622),
               (2.0, -0.21622), (4.0, -0.21622), (7.0, -0.21622), (0.6, -0.21600)]
FABP2a_fit = {"Pre": [(0.0, -0.21607), (82.8, -0.20227)], "Post": [(0.0, -0.21615), (82.8, -0.21104)]}
FABP2a_stats = [("0.68", "< 0.001"), ("0.68", "< 0.001")]

FABP2b_pre = [(22.2, -0.20147), (62.8, -0.20147), (32.5, -0.21633), (49.5, -0.21639),
              (52.0, -0.21639), (55.0, -0.21639), (58.0, -0.21639), (61.0, -0.21639),
              (64.0, -0.21639), (67.0, -0.21639), (70.0, -0.21639), (73.0, -0.21639),
              (76.0, -0.21639), (79.5, -0.21639), (85.5, -0.21639)]
FABP2b_post = [(16.0, -0.21639), (22.2, -0.21078), (62.8, -0.21078), (50.5, -0.21639),
               (53.5, -0.21639), (56.5, -0.21639), (59.5, -0.21639), (62.5, -0.21639),
               (65.5, -0.21639), (68.5, -0.21639), (71.5, -0.21639), (74.5, -0.21639)]
FABP2b_fit = {"Pre": [(16.0, -0.21056), (85.5, -0.21806)], "Post": [(16.0, -0.21467), (85.5, -0.21686)]}
FABP2b_stats = [("−0.36", "= 0.0031"), ("−0.42", "< 0.001")]

panel_titles = ["BLVRB", "APOC1", "HBA1", "HBB", "PAFAH1B2",
                "DEFA1", "FGB", "FGG", "FGA", "MMP9",
                "EIF5A", "CRP", "C9", "FABP2", "FABP2"]
panel_param = ["MA", "MA", "MA", "MA", "MA", "LY30", "MA", "MA", "MA", "LY30",
               "MA", "MA", "MA", "LY30", "MA"]
panel_data = [
    (BLVRB_pre, BLVRB_post, BLVRB_fit, BLVRB_stats),
    (APOC1_pre, APOC1_post, APOC1_fit, APOC1_stats),
    (HBA1_pre, HBA1_post, HBA1_fit, HBA1_stats),
    (HBB_pre, HBB_post, HBB_fit, HBB_stats),
    (PAFAH1B2_pre, PAFAH1B2_post, PAFAH1B2_fit, PAFAH1B2_stats),
    (DEFA1_pre, DEFA1_post, DEFA1_fit, DEFA1_stats),
    (FGB_pre, FGB_post, FGB_fit, FGB_stats),
    (FGG_pre, FGG_post, FGG_fit, FGG_stats),
    (FGA_pre, FGA_post, FGA_fit, FGA_stats),
    (MMP9_pre, MMP9_post, MMP9_fit, MMP9_stats),
    (EIF5A_pre, EIF5A_post, EIF5A_fit, EIF5A_stats),
    (CRP_pre, CRP_post, CRP_fit, CRP_stats),
    (C9_pre, C9_post, C9_fit, C9_stats),
    (FABP2a_pre, FABP2a_post, FABP2a_fit, FABP2a_stats),
    (FABP2b_pre, FABP2b_post, FABP2b_fit, FABP2b_stats),
]

# ---------------------------------------------------------------- layout (pixels)
W, H = 1498, 1800
fig = plt.figure(figsize=(W / 100, H / 100), dpi=100)
fig.patch.set_facecolor("white")


def px_axes(l, t, r, b):
    return fig.add_axes([l / W, 1 - b / H, (r - l) / W, (b - t) / H])


# panel boxes (left, top, right, bottom) and axis scales
B_boxes = [(81, 875, 302, 1092), (387, 875, 607, 1092), (665, 874, 891, 1092),
           (979, 874, 1204, 1092), (1283, 874, 1495, 1092),
           (81, 1208, 302, 1427), (382, 1208, 607, 1427), (645, 1208, 891, 1427),
           (971, 1208, 1204, 1427), (1283, 1208, 1495, 1427),
           (90, 1543, 302, 1760), (379, 1543, 608, 1760), (657, 1543, 891, 1760),
           (992, 1543, 1204, 1760), (1283, 1543, 1495, 1760)]
MA_X = ((12.8, 88.8), [30, 50, 70])
LY_X = ((-4.1, 86.8), [0, 20, 40, 60, 80])
B_axes_cfg = [
    (MA_X, (-0.2207, -0.1720), [-0.22, -0.21, -0.20, -0.19, -0.18], "%.2f"),
    (MA_X, (-0.2096, -0.0412), [-0.20, -0.15, -0.10, -0.05], "%.2f"),
    (MA_X, (-0.94, 10.2), [0, 2.5, 5.0, 7.5, 10.0], "%.1f"),
    (MA_X, (-0.75, 10.37), [0, 2.5, 5.0, 7.5, 10.0], "%.1f"),
    (MA_X, (-0.21892, -0.20966), [-0.218, -0.216, -0.214, -0.212, -0.210], "%.3f"),
    (LY_X, (-0.228, 0.011), [-0.20, -0.15, -0.10, -0.05, 0.00], "%.2f"),
    (MA_X, (0.63, 10.86), [2.5, 5.0, 7.5, 10.0], "%.1f"),
    (MA_X, (-0.03, 8.09), [0, 2, 4, 6, 8], "%d"),
    (MA_X, (0.13, 9.76), [2.5, 5.0, 7.5], "%.1f"),
    (LY_X, (-0.2187, -0.1946), [-0.215, -0.210, -0.205, -0.200, -0.195], "%.3f"),
    (MA_X, (-0.21802, -0.21319), [-0.218, -0.217, -0.216, -0.215, -0.214], "%.3f"),
    (MA_X, (-0.74, 1.227), [-0.4, 0.0, 0.4, 0.8, 1.2], "%.1f"),
    (MA_X, (-0.419, 1.465), [0.0, 0.5, 1.0], "%.1f"),
    (LY_X, (-0.21701, -0.20091), [-0.216, -0.212, -0.208, -0.204], "%.3f"),
    (MA_X, (-0.21889, -0.20078), [-0.215, -0.210, -0.205], "%.3f"),
]

TIME_MARKERS = {"Pre": "^", "Post": "o"}


def code_frame(points):
    df = pd.DataFrame(points, columns=["r", "y", "code"])
    df["Parameter"] = df["code"].str[0].map(PARAM_CODE)
    df["Time"] = df["code"].str[1].map(TIME_CODE)
    return df


def draw_volcano(ax, ns_sets, sig_points, label_names, label_points, label_pos, label_seg,
                 ymax, yticks):
    for rr, yy in ns_sets:
        gdf = pd.DataFrame({"r": rr, "y": yy})
        sns.scatterplot(data=gdf, x="r", y="y", color=GRAY, marker="o", s=140,
                        linewidth=0, legend=False, ax=ax, zorder=2)
    ax.axhline(sig_threshold, color="#9A9A9A", lw=2.2, ls=(0, (4.5, 2.8)), zorder=1)
    sdf = code_frame(sig_points)
    sns.scatterplot(data=sdf, x="r", y="y", hue="Parameter", style="Time",
                    palette=PARAM_COLORS, markers=TIME_MARKERS, s=90, linewidth=0,
                    legend=False, ax=ax, zorder=3)
    ldf = code_frame(label_points)
    sns.scatterplot(data=ldf, x="r", y="y", hue="Parameter", style="Time",
                    palette=PARAM_COLORS, markers=TIME_MARKERS, s=70, linewidth=0,
                    legend=False, ax=ax, zorder=4)
    for name, (r, y, code), (tx, ty), seg in zip(label_names, label_points, label_pos, label_seg):
        c = PARAM_COLORS[PARAM_CODE[code[0]]]
        props = dict(arrowstyle="-", color=c, lw=1.6, shrinkA=1, shrinkB=4) if seg else None
        ax.annotate(name, xy=(r, y), xytext=(tx, ty), textcoords="data", ha="center",
                    va="center", color=c, fontsize=10.5, arrowprops=props, zorder=5)
    ax.set_xlim(-0.88, 0.88)
    ax.set_ylim(0, ymax)
    ax.set_xticks([-0.8, -0.6, -0.4, -0.2, 0.0, 0.2, 0.4, 0.6, 0.8])
    ax.set_yticks(yticks)
    ax.xaxis.set_major_formatter(FormatStrFormatter("%.1f"))
    ax.yaxis.set_major_formatter(FormatStrFormatter("%d"))
    ax.tick_params(axis="both", which="major", bottom=True, left=True, direction="out",
                   length=5, width=1.5, color="black", labelsize=16, labelcolor="black", pad=3)
    ax.tick_params(axis="x", labelrotation=90)
    for s in ax.spines.values():
        s.set_color("black")
        s.set_linewidth(1.5)
    ax.set_xlabel("Correlation Estimate", fontsize=25, va="center")
    ax.set_ylabel("-log10(Pvalue)", fontsize=25, va="center")
    ax.xaxis.set_label_coords(0.5, -0.1146)
    ax.yaxis.set_label_coords(-0.112, 0.5)
    ax.set_facecolor("white")


axL = px_axes(83, 91, 493, 702)
draw_volcano(axL, [(raw_ns_r, raw_ns_y), ([-v for v in raw_ns_r], raw_ns_y)], raw_sig,
             raw_label_names, raw_label_points, raw_label_pos, raw_label_seg, 8,
             [0, 1, 2, 3, 4, 5, 6, 7, 8])
axR = px_axes(647, 92, 1057, 702)
draw_volcano(axR, [(norm_ns_r_neg, norm_ns_y), (norm_ns_r_pos, norm_ns_y)], norm_sig,
             norm_label_names, norm_label_points, norm_label_pos, norm_label_seg, 10,
             [0, 1, 2, 3, 4, 5, 6, 7, 8, 9])
axR.spines["right"].set_color("#AAAAAA")

fig.text(288 / W, 1 - 17 / H, "Proteomics Raw Data", ha="center", va="center",
         fontsize=22.5, fontweight="bold")
fig.text(288 / W, 1 - 52 / H, "Correlation Method: Spearman", ha="center", va="center",
         fontsize=22.5, fontweight="bold")
fig.text(852 / W, 1 - 17 / H, "Proteomics Normalized Data", ha="center", va="center",
         fontsize=22.5, fontweight="bold")
fig.text(852 / W, 1 - 52 / H, "Correlation Method: Pearson", ha="center", va="center",
         fontsize=22.5, fontweight="bold")
fig.text(13 / W, 1 - 19 / H, "A", ha="center", va="center", fontsize=21, fontweight="bold")
fig.text(12 / W, 1 - 844 / H, "B", ha="center", va="center", fontsize=21, fontweight="bold")

# ---------------------------------------------------------------- legend
LEG_L, LEG_T, LEG_R, LEG_B = 1278, 130, 1492, 668
lax = px_axes(LEG_L, LEG_T, LEG_R, LEG_B)
lax.set_xticks([])
lax.set_yticks([])
lax.set_facecolor("white")
for s in lax.spines.values():
    s.set_color("#555555")
    s.set_linewidth(1.0)
LEG_FS = 19
lh = LEG_B - LEG_T
lax.text((1295 - LEG_L) / (LEG_R - LEG_L), (LEG_B - 166) / lh, "TEG Parameter",
         transform=lax.transAxes, ha="left", va="center", fontsize=LEG_FS)
lax.text((1295 - LEG_L) / (LEG_R - LEG_L), (LEG_B - 397) / lh, "Time",
         transform=lax.transAxes, ha="left", va="center", fontsize=LEG_FS)
h1 = [Line2D([], [], marker="o", ls="none", color=PARAM_COLORS[k], markersize=17)
      for k in ["MA", "LY30", "R"]]
leg1 = lax.legend(h1, ["MA", "LY30", "R"], loc="upper left",
                  bbox_to_anchor=(0.021, (LEG_B - 190) / lh), frameon=False, fontsize=LEG_FS,
                  labelspacing=1.36, handlelength=1.8, handletextpad=0.6, borderpad=0.3,
                  borderaxespad=0)
lax.add_artist(leg1)
h2 = [Line2D([], [], marker="^", ls="none", color="black", markersize=17),
      Line2D([], [], marker="o", ls="none", color="black", markersize=17),
      Line2D([], [], color=CYAN, lw=1.6),
      Line2D([], [], color=RED, lw=1.6)]
leg2 = lax.legend(h2, ["Pre", "Post", "Pre", "Post"], loc="upper left",
                  bbox_to_anchor=(0.021, (LEG_B - 423) / lh), frameon=False, fontsize=LEG_FS,
                  labelspacing=1.52, handlelength=1.8, handletextpad=0.6, borderpad=0.3,
                  borderaxespad=0)

# ---------------------------------------------------------------- scatter panels (B)


def stat_text(rv, pv):
    if pv.startswith("<"):
        return "$\\it{r}$ = " + rv + " , p " + pv
    return "$\\it{r}$ = " + rv + " , $\\it{p}$ " + pv


for i, title in enumerate(panel_titles):
    pre, post, fit, stats = panel_data[i]
    (xlim, xticks), ylim, yticks, yfmt = B_axes_cfg[i]
    ax = px_axes(*B_boxes[i])
    color = PARAM_COLORS[panel_param[i]]
    df = pd.DataFrame(pre + post, columns=["x", "y"])
    df["Time"] = ["Pre"] * len(pre) + ["Post"] * len(post)
    sns.scatterplot(data=df, x="x", y="y", style="Time", markers=TIME_MARKERS, color=color,
                    s=36, linewidth=0, edgecolor="none", legend=False, ax=ax, zorder=2)
    for t, lc in (("Pre", CYAN), ("Post", RED)):
        fdf = pd.DataFrame(fit[t], columns=["x", "y"])
        ax.plot(fdf["x"], fdf["y"], color=lc, lw=1.3, zorder=3)
    ax.text(0.045, 0.915, stat_text(*stats[0]), transform=ax.transAxes, ha="left",
            va="center", fontsize=8, color="#1A1A1A")
    ax.text(0.045, 0.848, stat_text(*stats[1]), transform=ax.transAxes, ha="left",
            va="center", fontsize=8, color="#1A1A1A")
    ax.set_xlim(*xlim)
    ax.set_ylim(*ylim)
    ax.set_xticks(xticks)
    ax.set_yticks(yticks)
    ax.yaxis.set_major_formatter(FormatStrFormatter(yfmt))
    ax.xaxis.set_major_formatter(FormatStrFormatter("%d"))
    ax.tick_params(axis="both", bottom=True, left=True, direction="out", length=2.5,
                   width=0.8, color="#666666", labelsize=10.5, labelcolor="#4D4D4D", pad=1.5)
    for lab in ax.get_xticklabels() + ax.get_yticklabels():
        lab.set_fontweight("bold")
    for s in ax.spines.values():
        s.set_color("#8C8C8C")
        s.set_linewidth(1.2)
    ax.set_facecolor("white")
    ax.set_title(title, fontsize=13.5, fontweight="bold", pad=4)
    ax.set_xlabel("TEG Value", fontsize=12.6, fontweight="bold", labelpad=0)
    ax.set_ylabel("")

for yc in [(874 + 1092) / 2, (1208 + 1427) / 2, (1543 + 1760) / 2]:
    fig.text(10 / W, 1 - yc / H, "Norm. Intensity", rotation=90, ha="center", va="center",
             fontsize=13, fontweight="bold")

fig.savefig("out.png", dpi=100, facecolor="white")
